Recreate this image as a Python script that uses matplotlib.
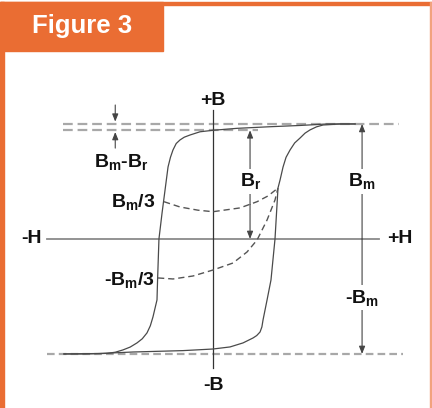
import matplotlib
matplotlib.use("Agg")
import matplotlib.pyplot as plt
from matplotlib.patches import Rectangle

plt.rcParams["font.family"] = ["Liberation Sans", "DejaVu Sans"]
plt.rcParams["mathtext.fontset"] = "custom"
plt.rcParams["mathtext.rm"] = "Liberation Sans:bold"
plt.rcParams["mathtext.it"] = "Liberation Sans:bold"
plt.rcParams["mathtext.bf"] = "Liberation Sans:bold"
plt.rcParams["lines.scale_dashes"] = False

# B-H loop, B in units of Bm, H in the same scale
Bm = 1.0
Br = 0.945

# descending branch, from +saturation to -saturation
h_down = [1.235, 0.991, 0.757, 0.496, 0.209, 0.0, -0.113, -0.2, -0.25, -0.287,
          -0.32, -0.348, -0.37, -0.391, -0.417, -0.443, -0.47, -0.482, -0.487,
          -0.522, -0.545, -0.574, -0.615, -0.661, -0.72, -0.783, -0.85, -0.922,
          -1.113, -1.296]
b_down = [1.0, 1.0, 0.987, 0.976, 0.962, 0.945, 0.932, 0.904, 0.885, 0.861,
          0.83, 0.774, 0.71, 0.626, 0.426, 0.226, 0.0, -0.357, -0.53,
          -0.678, -0.755, -0.817, -0.868, -0.904, -0.94, -0.965, -0.985, -0.995,
          -1.0, -1.0]

# ascending branch, from -saturation to +saturation
h_up = [-1.296, -0.983, -0.696, -0.261, 0.0, 0.148, 0.261, 0.348, 0.38, 0.409,
        0.425, 0.435, 0.47, 0.504, 0.539, 0.565, 0.583, 0.609, 0.635, 0.67,
        0.71, 0.757, 0.8, 0.843, 0.9, 0.957, 1.104, 1.235]
b_up = [-1.0, -0.996, -0.983, -0.971, -0.957, -0.939, -0.904, -0.861, -0.84,
        -0.809, -0.765, -0.704, -0.53, -0.357, 0.0, 0.443, 0.513, 0.626, 0.71,
        0.774, 0.835, 0.878, 0.92, 0.948, 0.975, 0.991, 1.0, 1.0]

# minor loop starting at +Bm/3
h_minor_hi = [-0.426, -0.287, -0.13, 0.0, 0.235, 0.383, 0.48, 0.565]
b_minor_hi = [0.324, 0.278, 0.25, 0.237, 0.27, 0.324, 0.375, 0.443]

# minor loop starting at -Bm/3
h_minor_lo = [-0.478, -0.348, -0.174, 0.0, 0.174, 0.296, 0.383, 0.47, 0.539, 0.565]
b_minor_lo = [-0.339, -0.348, -0.322, -0.27, -0.209, -0.113, -0.009, 0.165, 0.339, 0.443]

fig = plt.figure(figsize=(4.32, 4.08), dpi=100)
ax = fig.add_axes([0, 0, 1, 1])
ax.set_xlim(-1.852, 1.904)
ax.set_ylim(-1.47, 2.078)
ax.axis("off")

orange = "#EA6D33"
fig.patches.append(Rectangle((0, 0), 0.0095, 0.995, transform=fig.transFigure, color=orange))
fig.patches.append(Rectangle((0, 0.9875), 1.0, 0.008, transform=fig.transFigure, color=orange))
fig.patches.append(Rectangle((0, 0.876), 0.378, 0.12, transform=fig.transFigure, color=orange))
fig.patches.append(Rectangle((0.9945, 0), 0.0035, 0.995, transform=fig.transFigure,
                             color="#F2A27E"))
fig.text(0.19, 0.936, "Figure 3", color="white", fontsize=18.5, fontweight="bold",
         ha="center", va="center")

# reference levels
dash_grey = "#A8A8A8"
ax.plot([-1.304, 1.617], [Bm, Bm], color=dash_grey, lw=1.6, dashes=(7, 3.5))
ax.plot([-1.304, 0.391], [Br, Br], color=dash_grey, lw=1.6, dashes=(7, 3.5))
ax.plot([-1.443, 1.652], [-Bm, -Bm], color=dash_grey, lw=1.6, dashes=(5.5, 3))

# axes
ax.plot([-1.443, 1.443], [0, 0], color="#8A8A8A", lw=1.3)
ax.plot([0, 0], [-1.122, 1.122], color="#333333", lw=0.9)

# hysteresis loop
ax.plot(h_down, b_down, color="#4A4A4A", lw=0.9, solid_joinstyle="round")
ax.plot(h_up, b_up, color="#4A4A4A", lw=0.9, solid_joinstyle="round")
ax.plot(h_minor_hi, b_minor_hi, color="#555555", lw=1.0, dashes=(4.5, 2.8))
ax.plot(h_minor_lo, b_minor_lo, color="#555555", lw=1.0, dashes=(4.5, 2.8))


def arrow(x, y0, y1):
    ax.annotate("", xy=(x, y1), xytext=(x, y0),
                arrowprops=dict(arrowstyle="-|>,head_length=0.45,head_width=0.18",
                                color="#444444", lw=0.8, shrinkA=0, shrinkB=0,
                                mutation_scale=10))


label_kw = dict(fontsize=14, fontweight="bold", color="#111111", ha="center", va="center")
box = dict(fc="white", ec="none", pad=1.5)

# Bm and -Bm
arrow(1.296, 0, Bm)
arrow(1.296, 0, -Bm)
ax.text(1.296, 0.5, r"B$_\mathrm{m}$", bbox=box, **label_kw)
ax.text(1.296, -0.51, r"-B$_\mathrm{m}$", bbox=box, **label_kw)

# Br
arrow(0.322, 0.3, Br)
arrow(0.322, 0.3, 0)
ax.text(0.33, 0.5, r"B$_\mathrm{r}$", bbox=box, **label_kw)

# Bm - Br gap
arrow(-0.85, 1.165, Bm + 0.02)
arrow(-0.85, 0.79, Br - 0.015)
ax.text(-0.8, 0.67, r"B$_\mathrm{m}$-B$_\mathrm{r}$", **label_kw)

ax.text(-0.5, 0.32, r"B$_\mathrm{m}$/3", fontsize=14, fontweight="bold",
        color="#111111", ha="right", va="center")
ax.text(-0.505, -0.36, r"-B$_\mathrm{m}$/3", fontsize=14, fontweight="bold",
        color="#111111", ha="right", va="center")

ax.text(0, 1.2, "+B", **label_kw)
ax.text(0, -1.27, "-B", **label_kw)
ax.text(-1.58, 0, "-H", **label_kw)
ax.text(1.62, 0, "+H", **label_kw)

fig.savefig("out.png", dpi=100)
